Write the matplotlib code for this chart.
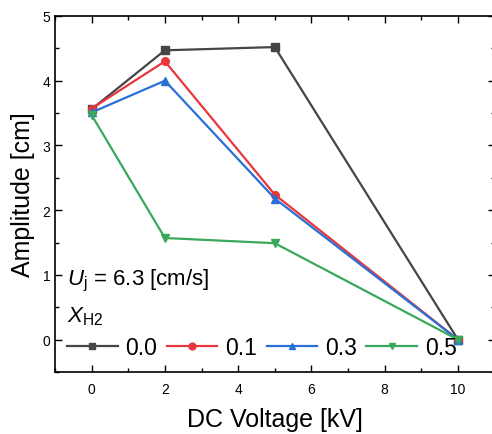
import numpy as np
import matplotlib
matplotlib.use("Agg")
import matplotlib.pyplot as plt
from matplotlib.ticker import MultipleLocator

plt.rcParams['font.family'] = ['Liberation Sans', 'DejaVu Sans']
plt.rcParams['mathtext.fontset'] = 'custom'
plt.rcParams['mathtext.rm'] = 'Liberation Sans'
plt.rcParams['mathtext.it'] = 'Liberation Sans:italic'

# datos
voltaje = [0, 2, 5, 10]
x_h2 = ['0.0', '0.1', '0.3', '0.5']
amp_00 = [3.56, 4.47, 4.52, 0.0]
amp_01 = [3.57, 4.30, 2.24, 0.0]
amp_03 = [3.51, 4.00, 2.18, 0.0]
amp_05 = [3.47, 1.57, 1.49, 0.0]

series = [amp_00, amp_01, amp_03, amp_05]
colores = ['#454545', '#e8373c', '#2a6fd6', '#3aa85a']
marcadores = ['s', 'o', '^', 'v']

fig = plt.figure(figsize=(4.92, 4.35), dpi=100)
ax = fig.add_axes([55/492, 1-373/435, 439.6/492, 356/435])

for amp, c, m, lab in zip(series, colores, marcadores, x_h2):
    ax.plot(voltaje, amp, color=c, marker=m, markersize=5.5, linewidth=1.6, label=lab)

ax.set_xlim(-1, 11)
ax.set_ylim(-0.5, 5)
ax.xaxis.set_major_locator(MultipleLocator(2))
ax.xaxis.set_minor_locator(MultipleLocator(1))
ax.yaxis.set_major_locator(MultipleLocator(1))
ax.yaxis.set_minor_locator(MultipleLocator(0.5))
ax.tick_params(which='both', direction='in', top=True, right=True, labelsize=10, width=1)
ax.tick_params(which='major', length=5)
ax.tick_params(which='minor', length=3)
ax.tick_params(axis='x', pad=7)
for s in ax.spines.values():
    s.set_linewidth(1.2)

ax.set_xlabel('DC Voltage [kV]', fontsize=18, labelpad=8)
ax.set_ylabel('Amplitude [cm]', fontsize=18, labelpad=5)

ax.text(0.027, 0.258, r'$U_{\mathrm{j}}$ = 6.3 [cm/s]', transform=ax.transAxes,
        fontsize=16, va='center', ha='left')
ax.text(0.027, 0.158, r'$X_{\mathrm{H2}}$', transform=ax.transAxes,
        fontsize=16, va='center', ha='left')

ax.legend(loc='center left', bbox_to_anchor=(-0.01, 0.07), ncol=4, frameon=False,
          fontsize=16.5, handlelength=2.22, handletextpad=0.35, columnspacing=0.4,
          borderpad=0.2, markerscale=0.9)

fig.savefig('out.png', dpi=100)
